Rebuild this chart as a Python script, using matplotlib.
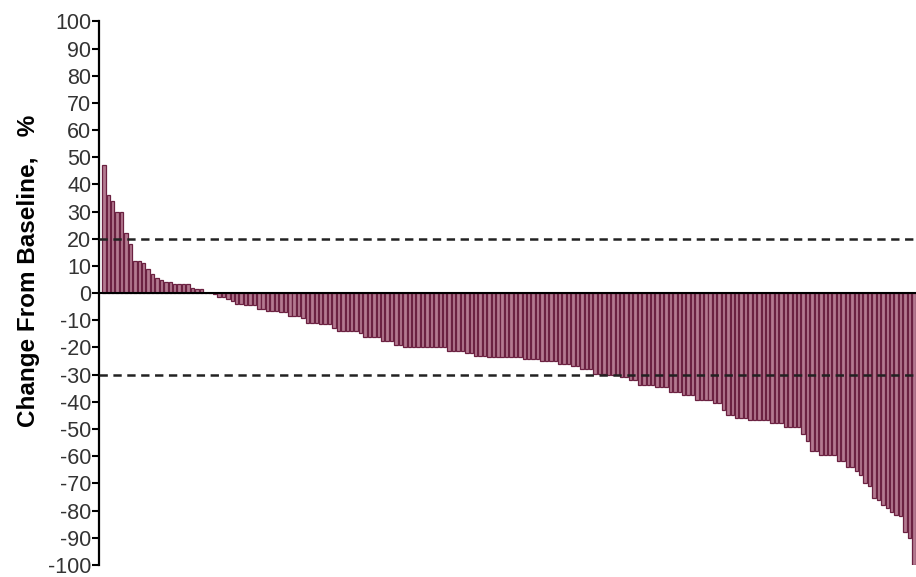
import matplotlib
matplotlib.use("Agg")
import matplotlib.pyplot as plt
import numpy as np

plt.rcParams['font.family'] = ['Liberation Sans', 'DejaVu Sans']
plt.rcParams['lines.scale_dashes'] = False

# Best percentage change from baseline per patient, sorted descending
change_pct = [
    47, 36, 34, 30, 30, 22, 18, 12, 12, 11,
    9, 7, 5.5, 5, 4, 4, 3.5, 3.5, 3.5, 3.5,
    2, 1.5, 1.5, 0, 0, -0.5, -1.5, -1.5, -2, -2.8,
    -4, -4, -4.2, -4.2, -4.2, -5.7, -5.7, -6.6, -6.6, -6.6,
    -6.9, -6.9, -8.5, -8.5, -8.5, -9.3, -10.9, -10.9, -10.9, -11.3,
    -11.3, -11.3, -12.7, -13.9, -13.9, -13.9, -13.9, -13.9, -14.5, -16.1,
    -16.1, -16.1, -16.1, -17.5, -17.5, -17.5, -19, -19, -19.7, -19.7,
    -19.7, -19.7, -19.7, -19.7, -20, -20, -20, -20, -21.2, -21.2,
    -21.2, -21.2, -22.1, -22.1, -23, -23, -23, -23.6, -23.6, -23.6,
    -23.6, -23.6, -23.6, -23.6, -23.6, -24.2, -24.2, -24.2, -24.2, -25,
    -25, -25, -25, -26, -26, -26, -27, -27, -27.8, -27.8,
    -27.8, -29.6, -29.6, -29.6, -30.2, -30.2, -30.2, -30.9, -30.9, -31.8,
    -31.8, -33.9, -33.9, -33.9, -33.9, -34.7, -34.7, -34.7, -36.3, -36.3,
    -36.3, -37.5, -37.5, -37.5, -39.3, -39.3, -39.3, -39.3, -40.5, -40.5,
    -43, -44.8, -44.8, -46, -46, -46, -46.6, -46.6, -46.6, -46.6,
    -46.6, -47.8, -47.8, -47.8, -49.4, -49.4, -49.4, -49.4, -52, -54.4,
    -58, -58, -59.6, -59.6, -59.6, -59.6, -61.7, -61.7, -64, -64,
    -65.5, -67, -70, -70.8, -75.5, -76, -78, -79, -80.5, -81.7,
    -82, -88, -90, -100,
]

# Reference thresholds: progression (+20%) and response (-30%)
thresholds = [20, -30]
y_ticks = list(range(-100, 101, 10))

fig = plt.figure(figsize=(9.16, 5.77), dpi=100)
ax = fig.add_axes([0.1086, 0.021, 0.8914, 0.942])

x = np.arange(len(change_pct))
ax.bar(x, change_pct, width=0.78, color='#b47a90', edgecolor='#6b2141',
       linewidth=0.9, zorder=2)

ax.axhline(0, color='black', linewidth=1.5, zorder=3)
for t in thresholds:
    ax.axhline(t, color='#222222', linewidth=1.8, dashes=(6, 4), zorder=4)

ax.set_ylim(-100, 100)
ax.set_xlim(-1.0, len(change_pct) - 0.5)
ax.set_yticks(y_ticks)
ax.set_yticklabels([str(v) for v in y_ticks], fontsize=15.5, color='#333333')
ax.set_xticks([])
ax.tick_params(axis='y', direction='out', length=5, width=1.5, pad=1)

for side in ('top', 'right', 'bottom'):
    ax.spines[side].set_visible(False)
ax.spines['left'].set_linewidth(1.6)

ax.set_ylabel('Change From Baseline,   %', fontsize=17.5, fontweight='bold')
ax.yaxis.set_label_coords(-0.073, 0.54)

fig.savefig('out.png', dpi=100)
